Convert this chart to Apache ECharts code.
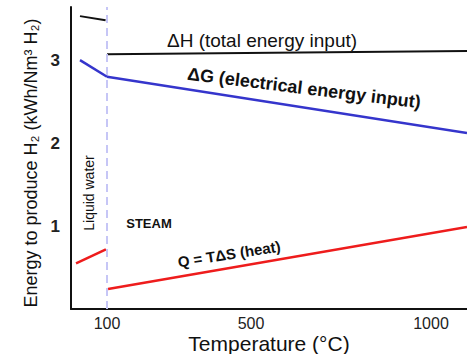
<!DOCTYPE html>
<html>
<head>
<meta charset="utf-8">
<script src="https://cdn.jsdelivr.net/npm/echarts@6/dist/echarts.min.js"></script>
<style>
    html, body { margin: 0; padding: 0; background: #fff; }
    #chart1 { width: 467px; height: 354px; }
</style>
</head>
<body>
<div id="chart1"></div>
<script>
// data: [temperature (°C), kWh/Nm3 H2]
var dhLiquid = [[25, 3.53], [96, 3.48]];
var dhSteam = [[100, 3.07], [1100, 3.11]];
var dgLiquid = [[25, 3.00], [100, 2.80]];
var dgSteam = [[100, 2.80], [1100, 2.12]];
var qLiquid = [[14, 0.55], [97, 0.72]];
var qSteam = [[103, 0.24], [1100, 0.99]];
var xTickLabels = [100, 500, 1000];
var yTickLabels = [1, 2, 3];
var boilingPoint = 100;

function drawChart1() {
    var dom1 = document.getElementById("chart1");
    var myChart1 = echarts.init(dom1, null, { renderer: 'svg' });
    var font = 'Liberation Sans, Arial, sans-serif';

    function seg(data, color, width) {
        return {
            type: 'line',
            data: data,
            symbol: 'none',
            silent: true,
            lineStyle: { color: color, width: width }
        };
    }

    var series = [
        seg(dhLiquid, '#111111', 2),
        seg(dhSteam, '#111111', 2),
        seg(dgLiquid, '#3535cc', 2.5),
        seg(dgSteam, '#3535cc', 2.5),
        seg(qLiquid, '#ee1c1c', 2.5),
        seg(qSteam, '#ee1c1c', 2.5)
    ];
    series[0].markLine = {
        silent: true,
        symbol: 'none',
        label: { show: false },
        lineStyle: { color: '#c6c6f6', width: 2, type: [8, 5] },
        data: [{ xAxis: boilingPoint }]
    };

    var option = {
        animation: false,
        grid: { left: 71, right: 0, top: 7, bottom: 45, outerBoundsMode: 'none' },
        xAxis: {
            type: 'value',
            min: 0,
            max: 1100,
            interval: 100,
            name: 'Temperature (°C)',
            nameLocation: 'middle',
            nameGap: 24,
            nameMoveOverlap: false,
            nameTextStyle: { fontFamily: font, fontSize: 21, color: '#111' },
            axisLine: { lineStyle: { color: '#111', width: 2 } },
            axisTick: { show: false },
            splitLine: { show: false },
            axisLabel: {
                margin: 6,
                fontFamily: font,
                fontSize: 16,
                color: '#222',
                showMaxLabel: true,
                formatter: function (v) {
                    return xTickLabels.indexOf(v) >= 0 ? String(v) : '';
                }
            }
        },
        yAxis: {
            type: 'value',
            min: 0,
            max: 3.64,
            interval: 1,
            name: 'Energy to produce H₂ (kWh/Nm³ H₂)',
            nameLocation: 'middle',
            nameGap: 31,
            nameMoveOverlap: false,
            nameTextStyle: { fontFamily: font, fontSize: 18, color: '#111', padding: [0, 10, 0, 0] },
            axisLine: { show: true, lineStyle: { color: '#111', width: 2 } },
            axisTick: { show: false },
            splitLine: { show: false },
            axisLabel: {
                margin: 11,
                fontFamily: font,
                fontSize: 17,
                fontWeight: 'bold',
                color: '#222',
                formatter: function (v) {
                    return yTickLabels.indexOf(v) >= 0 ? String(v) : '';
                }
            }
        },
        graphic: [
            {
                type: 'text', x: 262, y: 40, silent: true,
                style: { text: 'ΔH (total energy input)', font: '19px ' + font, fill: '#111', align: 'center', verticalAlign: 'middle' }
            },
            {
                type: 'text', x: 304, y: 88, rotation: -7 * Math.PI / 180, silent: true,
                style: { text: 'ΔG (electrical energy input)', font: 'bold 18px ' + font, fill: '#111', align: 'center', verticalAlign: 'middle' }
            },
            {
                type: 'text', x: 229, y: 254, rotation: 9 * Math.PI / 180, silent: true,
                style: { text: 'Q = TΔS (heat)', font: 'bold 15px ' + font, fill: '#111', align: 'center', verticalAlign: 'middle' }
            },
            {
                type: 'text', x: 149, y: 223, silent: true,
                style: { text: 'STEAM', font: 'bold 13px ' + font, fill: '#111', align: 'center', verticalAlign: 'middle' }
            },
            {
                type: 'text', x: 89, y: 193, rotation: Math.PI / 2, silent: true,
                style: { text: 'Liquid water', font: '14px ' + font, fill: '#111', align: 'center', verticalAlign: 'middle' }
            }
        ],
        series: series
    };
    myChart1.setOption(option, true);
    window.onresize = myChart1.resize;
}

drawChart1();
</script>
</body>
</html>
